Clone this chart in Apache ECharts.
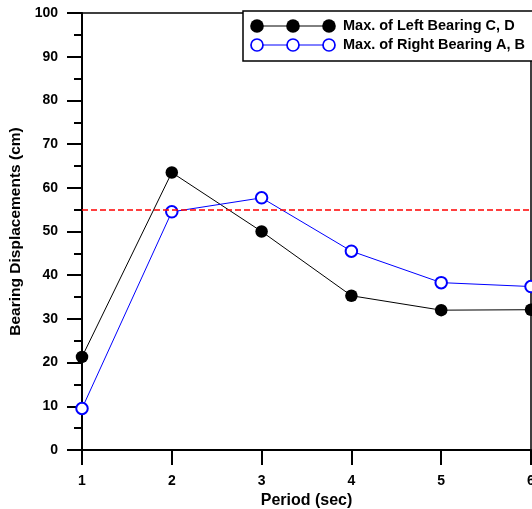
<!DOCTYPE html>
<html>
<head>
<meta charset="utf-8">
<script src="https://cdn.jsdelivr.net/npm/echarts@6/dist/echarts.min.js"></script>
<style>html,body{margin:0;padding:0;background:#fff}#c{width:532px;height:509px}</style>
</head>
<body>
<div id="c"></div>
<script>
const periods = [1, 2, 3, 4, 5, 6];
const leftBearingCD = [21.3, 63.5, 50.0, 35.3, 32.0, 32.1];
const rightBearingAB = [9.5, 54.5, 57.7, 45.5, 38.3, 37.4];
const limitValue = 55;
const seriesNames = ['Max. of Left Bearing C, D', 'Max. of Right Bearing A, B'];

const FONT = '"Liberation Sans", Arial, sans-serif';
const chart = echarts.init(document.getElementById('c'), null, {renderer: 'canvas'});

function legendItems(y, color, hollow, label) {
  const items = [
    {type: 'line', z: 101, shape: {x1: 252, y1: y, x2: 335, y2: y}, style: {stroke: color, lineWidth: 1}}
  ];
  [257, 293, 329].forEach(cx => items.push({
    type: 'circle', z: 102, shape: {cx: cx, cy: y, r: hollow ? 6 : 6.8},
    style: hollow ? {fill: '#fff', stroke: color, lineWidth: 1.7} : {fill: color}
  }));
  items.push({type: 'text', z: 102, x: 343, y: y, style: {text: label, fill: '#000', font: 'bold 14.5px ' + FONT, verticalAlign: 'middle'}});
  return items;
}

chart.setOption({
  animation: false,
  backgroundColor: '#fff',
  grid: {left: 82, top: 13, right: 1, bottom: 59, outerBoundsMode: 'none', containLabel: false,
         show: true, borderColor: '#000', borderWidth: 1.5, backgroundColor: 'transparent'},
  xAxis: {
    type: 'value', min: 1, max: 6, interval: 1,
    name: 'Period (sec)', nameLocation: 'middle', nameGap: 36,
    nameTextStyle: {fontFamily: FONT, fontWeight: 'bold', fontSize: 16, color: '#000'},
    axisLine: {lineStyle: {color: '#000', width: 2}},
    axisTick: {inside: false, length: 15, lineStyle: {color: '#000', width: 2}},
    axisLabel: {margin: 24, fontFamily: FONT, fontWeight: 'bold', fontSize: 14, color: '#000', hideOverlap: false},
    splitLine: {show: false}
  },
  yAxis: {
    type: 'value', min: 0, max: 100, interval: 10,
    name: 'Bearing Displacements (cm)', nameLocation: 'middle', nameGap: 57,
    nameTextStyle: {fontFamily: FONT, fontWeight: 'bold', fontSize: 15.5, color: '#000'},
    axisLine: {lineStyle: {color: '#000', width: 2}},
    axisTick: {inside: false, length: 15, lineStyle: {color: '#000', width: 2}},
    minorTick: {show: true, splitNumber: 2, length: 8, lineStyle: {color: '#000', width: 2}},
    axisLabel: {margin: 24, fontFamily: FONT, fontWeight: 'bold', fontSize: 14, color: '#000'},
    splitLine: {show: false}
  },
  series: [
    {
      name: seriesNames[0], type: 'line', data: periods.map((p, i) => [p, leftBearingCD[i]]),
      symbol: 'circle', symbolSize: 12.5, showAllSymbol: true,
      lineStyle: {color: '#000', width: 1}, itemStyle: {color: '#000'},
      markLine: {
        silent: true, symbol: 'none', label: {show: false},
        lineStyle: {color: '#ff0000', type: [6, 3], width: 1.5},
        data: [{yAxis: limitValue}]
      }
    },
    {
      name: seriesNames[1], type: 'line', data: periods.map((p, i) => [p, rightBearingAB[i]]),
      symbol: 'emptyCircle', symbolSize: 11.5, showAllSymbol: true,
      lineStyle: {color: '#0000ff', width: 1}, itemStyle: {color: '#0000ff', borderWidth: 1.7}
    }
  ],
  graphic: [
    {type: 'rect', z: 100, shape: {x: 243, y: 11, width: 300, height: 50}, style: {fill: '#fff', stroke: '#000', lineWidth: 1.5}}
  ].concat(legendItems(26, '#000', false, seriesNames[0]), legendItems(45, '#0000ff', true, seriesNames[1]))
});
</script>
</body>
</html>
